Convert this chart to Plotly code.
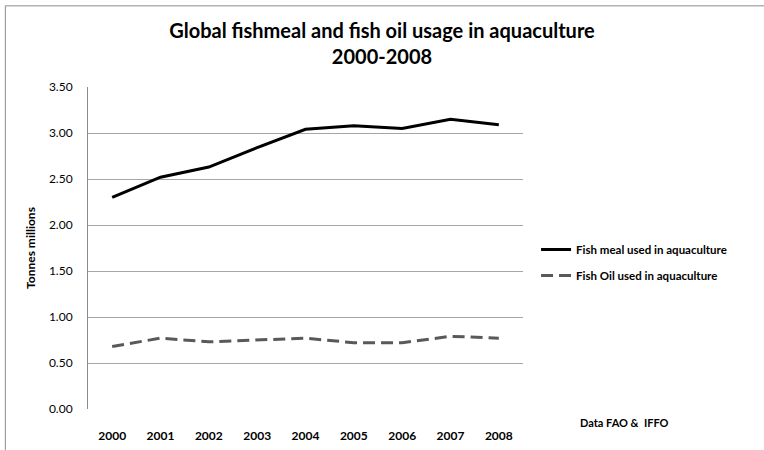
import plotly.graph_objects as go

years = ["2000", "2001", "2002", "2003", "2004", "2005", "2006", "2007", "2008"]
fish_meal = [2.30, 2.52, 2.63, 2.84, 3.04, 3.08, 3.05, 3.15, 3.09]
fish_oil = [0.68, 0.77, 0.73, 0.75, 0.77, 0.72, 0.72, 0.79, 0.77]
y_ticks = [0, 0.5, 1.0, 1.5, 2.0, 2.5, 3.0, 3.5]
y_tick_labels = ["0.00", "0.50", "1.00", "1.50", "2.00", "2.50", "3.00", "3.50"]

FONT = "Lato"

fig = go.Figure()
fig.add_trace(go.Scatter(x=years, y=fish_meal, mode="lines",
                         name="<b>Fish meal used in aquaculture</b>", legendgroup="a",
                         line=dict(color="#000000", width=3)))
fig.add_trace(go.Scatter(x=years, y=fish_oil, mode="lines",
                         name="<b>Fish Oil used in aquaculture</b>", legendgroup="b",
                         line=dict(color="#595959", width=3, dash="12px,6px")))

fig.update_layout(
    width=764, height=450,
    margin=dict(l=88, r=241, t=87, b=41, autoexpand=False),
    paper_bgcolor="white", plot_bgcolor="white",
    font=dict(family=FONT, color="#000000"),
    title=dict(text="<b>Global fishmeal and fish oil usage in aquaculture<br>2000-2008</b>",
               x=0.5, xref="container", xanchor="center",
               y=0.916, yref="container", yanchor="top",
               font=dict(size=20, family=FONT)),
    showlegend=True,
    legend=dict(x=1.03, y=0.455, xanchor="left", yanchor="middle",
                font=dict(size=11.5, family=FONT), bgcolor="rgba(0,0,0,0)",
                traceorder="grouped", tracegroupgap=7, itemwidth=30),
    xaxis=dict(type="category", range=[-0.5, 8.5], showgrid=False, showline=False,
               zeroline=False, automargin=False,
               ticks="", tickfont=dict(size=12, family=FONT),
               ticklabelstandoff=18),
    yaxis=dict(range=[0, 3.5], tickvals=y_ticks, ticktext=y_tick_labels,
               showgrid=True, gridcolor="#a6a6a6", gridwidth=1,
               showline=True, linecolor="#8c8c8c", linewidth=1, automargin=False,
               zeroline=False, ticks="", tickfont=dict(size=12, family=FONT),
               ticklabelstandoff=12,
               title=dict(text="<b>Tonnes millions</b>", font=dict(size=12, family=FONT), standoff=10)),
)

fig.update_xaxes(tickprefix="<b>", ticksuffix="</b>")
fig.update_yaxes(tickprefix="<b>", ticksuffix="</b>")

fig.add_annotation(text="<b>Data FAO &  IFFO</b>", xref="paper", yref="paper",
                   x=1.126, y=-0.015, xanchor="left", yanchor="top", showarrow=False,
                   font=dict(size=11, family=FONT))

fig.add_shape(type="rect", xref="paper", yref="paper",
              x0=-0.19, x1=1.7, y0=-0.2, y1=1.252,
              line=dict(color="#8c8c8c", width=1), layer="below")

fig.write_html("out.html", config={"displayModeBar": False},
               post_script="document.body.style.margin='0';")
